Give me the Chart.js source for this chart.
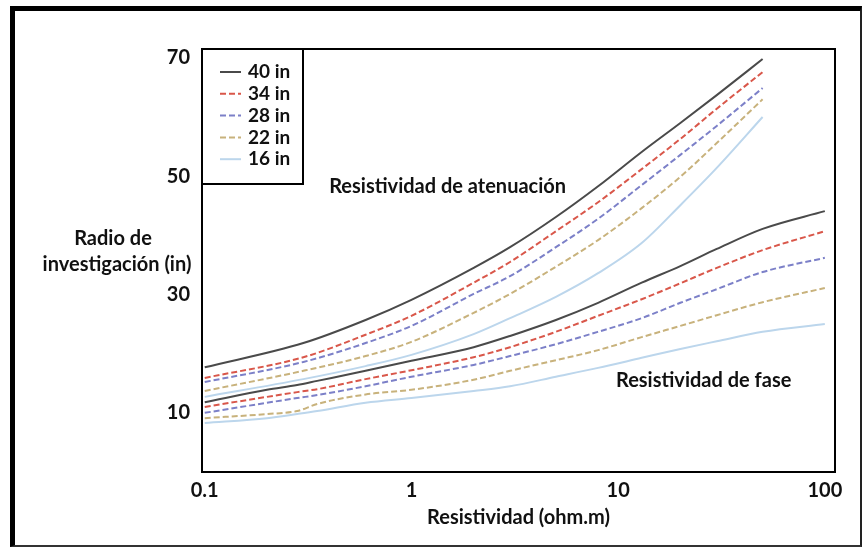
<!DOCTYPE html>
<html lang="es">
<head>
<meta charset="UTF-8">
<title>Radio de investigación vs Resistividad</title>
<script src="https://cdn.jsdelivr.net/npm/chart.js"></script>
<style>
  html, body { margin: 0; padding: 0; background: #fff; }
  #wrap { position: relative; width: 865px; height: 548px; overflow: hidden; }
  #frame {
    position: absolute; left: 10px; top: 6px; width: 845px; height: 534px;
    border-top: 5px solid #000; border-left: 5px solid #000;
    border-right: 2px solid #222; border-bottom: 2px solid #333;
    pointer-events: none;
  }
</style>
</head>
<body>
<div id="wrap">
  <canvas id="chart" width="865" height="548"></canvas>
  <div id="frame"></div>
</div>

<script>
  // Resistividad de atenuación (curvas superiores)
  const resAten = [0.1, 0.3, 0.6, 1, 2, 3, 5, 8, 13, 20, 30, 50];
  const aten40 = [17.7, 21.8, 25.7, 29.1, 34.5, 38.0, 43.1, 48.3, 54.1, 59.0, 63.7, 69.8];
  const aten34 = [15.9, 19.4, 23.2, 26.4, 32.0, 35.5, 40.7, 45.6, 51.2, 56.3, 61.4, 67.6];
  const aten28 = [15.2, 18.6, 21.8, 24.7, 30.1, 33.1, 38.0, 42.8, 48.5, 53.6, 58.5, 64.9];
  const aten22 = [13.7, 17.1, 19.6, 22.0, 26.9, 30.1, 34.7, 39.2, 44.6, 49.9, 55.6, 63.0];
  const aten16 = [12.7, 15.7, 17.9, 19.8, 23.3, 26.0, 29.6, 33.6, 38.7, 45.1, 51.4, 60.0];

  // Resistividad de fase (curvas inferiores)
  const resFase = [0.1, 0.2, 0.28, 0.35, 0.6, 1, 2, 3, 5, 8, 13, 20, 30, 50, 100];
  const fase40 = [11.8, 13.9, 14.7, 15.4, 17.1, 18.8, 21.1, 23.0, 25.7, 28.6, 32.0, 34.8, 37.7, 41.1, 44.1];
  const fase34 = [11.0, 12.7, 13.5, 14.0, 15.7, 17.2, 19.4, 21.1, 23.7, 26.4, 29.2, 31.9, 34.5, 37.5, 40.7];
  const fase28 = [10.0, 11.7, 12.5, 13.0, 14.5, 16.1, 18.1, 19.6, 21.6, 23.7, 26.0, 28.6, 30.9, 33.8, 36.2];
  const fase22 = [9.1, 9.8, 10.3, 11.5, 13.1, 13.9, 15.6, 17.1, 18.9, 20.6, 22.8, 24.7, 26.5, 28.7, 31.1];
  const fase16 = [8.3, 9.1, 9.8, 10.3, 11.7, 12.5, 13.7, 14.5, 16.1, 17.6, 19.3, 20.8, 22.1, 23.7, 25.0];

  const seriesNames = ['40 in', '34 in', '28 in', '22 in', '16 in'];
  const xTicks = [0.1, 1, 10, 100];
  const yTicks = [10, 30, 50, 70];

  const colors = ['#4a4a4a', '#d9574a', '#7c80c8', '#c8b27c', '#bcd6ec'];
  const dashes = [[], [6, 3], [6, 3], [6, 3], []];
  const fontBold = 'bold 20px Lato';

  function toPoints(xs, ys) {
    return xs.map((x, i) => ({ x: x, y: ys[i] }));
  }

  function makeSet(name, idx, xs, ys) {
    return {
      label: name,
      data: toPoints(xs, ys),
      borderColor: colors[idx],
      borderWidth: 2,
      borderDash: dashes[idx],
      pointRadius: 0,
      fill: false,
      cubicInterpolationMode: 'monotone'
    };
  }

  const atenSeries = [aten40, aten34, aten28, aten22, aten16];
  const faseSeries = [fase40, fase34, fase28, fase22, fase16];
  const datasets = [];
  // dibujar primero las curvas claras
  for (let i = seriesNames.length - 1; i >= 0; i--) {
    datasets.push(makeSet(seriesNames[i], i, resAten, atenSeries[i]));
    datasets.push(makeSet(seriesNames[i], i, resFase, faseSeries[i]));
  }

  // marco, leyenda y textos
  const decor = {
    id: 'decor',
    afterDraw(chart) {
      const ctx = chart.ctx;
      const ca = chart.chartArea;
      const xs = chart.scales.x, ys = chart.scales.y;
      ctx.save();
      ctx.strokeStyle = '#000';
      ctx.lineWidth = 2;
      ctx.strokeRect(ca.left, ca.top, ca.right - ca.left, ca.bottom - ca.top);

      // leyenda
      const lw = 101, lh = 135;
      ctx.fillStyle = '#fff';
      ctx.fillRect(ca.left, ca.top, lw, lh);
      ctx.strokeRect(ca.left, ca.top, lw, lh);
      ctx.font = 'bold 19px Lato';
      ctx.textBaseline = 'middle';
      ctx.textAlign = 'left';
      seriesNames.forEach((name, i) => {
        const y = ca.top + 23 + i * 21.8;
        ctx.beginPath();
        ctx.setLineDash(dashes[i]);
        ctx.strokeStyle = colors[i];
        ctx.lineWidth = 2;
        ctx.moveTo(ca.left + 18, y);
        ctx.lineTo(ca.left + 39, y);
        ctx.stroke();
        ctx.setLineDash([]);
        ctx.fillStyle = '#111';
        ctx.fillText(name, ca.left + 46, y);
      });

      ctx.font = fontBold;
      ctx.fillStyle = '#111';
      ctx.textAlign = 'left';
      ctx.fillText('Resistividad de atenuación', xs.getPixelForValue(0.4), ys.getPixelForValue(48.2));
      ctx.fillText('Resistividad de fase', xs.getPixelForValue(9.76), ys.getPixelForValue(15.4));

      ctx.textAlign = 'center';
      ctx.fillText('Radio de', 113, 239);
      ctx.fillText('investigación (in)', 117, 265);
      ctx.fillText('Resistividad (ohm.m)', (ca.left + ca.right) / 2, 518);
      ctx.restore();
    }
  };

  new Chart(document.getElementById('chart'), {
    type: 'line',
    data: { datasets: datasets },
    options: {
      responsive: false,
      animation: false,
      layout: { padding: { left: 0, top: 49, right: 30, bottom: 0 } },
      plugins: { legend: { display: false }, tooltip: { enabled: false } },
      scales: {
        x: {
          type: 'logarithmic',
          min: 0.097,
          max: 112,
          afterBuildTicks: s => { s.ticks = xTicks.map(v => ({ value: v })); },
          afterFit: s => { s.height = 76; },
          grid: { display: false, drawTicks: false },
          border: { display: false },
          ticks: {
            autoSkip: false,
            maxRotation: 0,
            padding: 7,
            color: '#111',
            font: { family: 'Lato', weight: 'bold', size: 20 },
            callback: v => String(v)
          }
        },
        y: {
          type: 'linear',
          min: 0,
          max: 71.5,
          afterBuildTicks: s => { s.ticks = yTicks.map(v => ({ value: v })); },
          afterFit: s => { s.width = 202; },
          grid: { display: false, drawTicks: false },
          border: { display: false },
          ticks: {
            padding: 12,
            color: '#111',
            font: { family: 'Lato', weight: 'bold', size: 20 }
          }
        }
      }
    },
    plugins: [decor]
  });
</script>
</body>
</html>
